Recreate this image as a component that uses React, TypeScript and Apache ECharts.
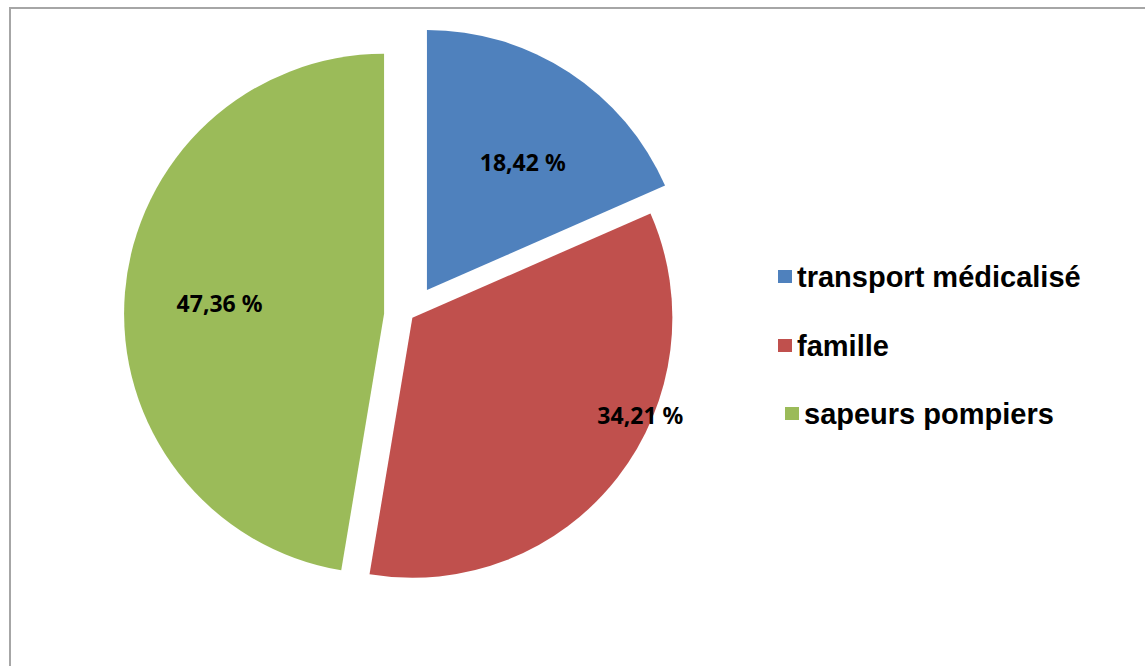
import React, { useEffect, useRef } from "react";
import * as echarts from "echarts";

const categories = ["transport médicalisé", "famille", "sapeurs pompiers"];
const values = [18.42, 34.21, 47.36];
const labelTexts = ["18,42 %", "34,21 %", "47,36 %"];
const colors = ["#4F81BD", "#C0504D", "#9BBB59"];

// layout-only settings
const explodeOffsets = [31, 3, 26];
const labelShifts = [
  [23, -17],
  [123, 15],
  [-32, 0],
];
const legendPos = [
  { left: 773, top: 257 },
  { left: 773, top: 326 },
  { left: 780, top: 394 },
];

export default function App() {
  const ref = useRef<HTMLDivElement>(null);

  useEffect(() => {
    if (!ref.current) return;
    const chart = echarts.init(ref.current, null, { renderer: "svg" });

    const series = categories.map((_, si) => ({
      type: "pie",
      center: [410, 316],
      radius: 260,
      startAngle: 90,
      clockwise: true,
      selectedMode: "multiple",
      selectedOffset: explodeOffsets[si],
      emphasis: { scale: false, disabled: true },
      labelLine: { show: false },
      labelLayout: { dx: labelShifts[si][0], dy: labelShifts[si][1] },
      data: categories.map((name, j) => ({
        name,
        value: values[j],
        selected: j === si,
        itemStyle:
          j === si
            ? { color: colors[j], borderWidth: 0 }
            : { color: "rgba(0,0,0,0)", borderWidth: 0 },
        label:
          j === si
            ? {
                show: true,
                position: "inside",
                formatter: () => labelTexts[j],
                fontFamily: "Noto Sans",
                fontWeight: "bold",
                fontSize: 23,
                color: "#000",
              }
            : { show: false },
      })),
    }));

    const legends = categories.map((name, i) => ({
      show: true,
      orient: "vertical",
      left: legendPos[i].left,
      top: legendPos[i].top,
      icon: "rect",
      itemWidth: 14,
      itemHeight: 13,
      selectedMode: false,
      data: [{ name, itemStyle: { color: colors[i] } }],
      textStyle: {
        fontFamily: "Liberation Sans",
        fontWeight: "bold",
        fontSize: 29,
        color: "#000",
      },
    }));

    chart.setOption({
      animation: false,
      backgroundColor: "#ffffff",
      legend: legends,
      graphic: [
        {
          type: "rect",
          shape: { x: 10, y: 8, width: 1300, height: 800 },
          style: { fill: "none", stroke: "#a6a6a6", lineWidth: 2 },
          silent: true,
          z: -1,
        },
      ],
      series,
    });

    return () => chart.dispose();
  }, []);

  return (
    <div
      ref={ref}
      style={{ position: "absolute", left: 0, top: 0, width: 1145, height: 666 }}
    />
  );
}
